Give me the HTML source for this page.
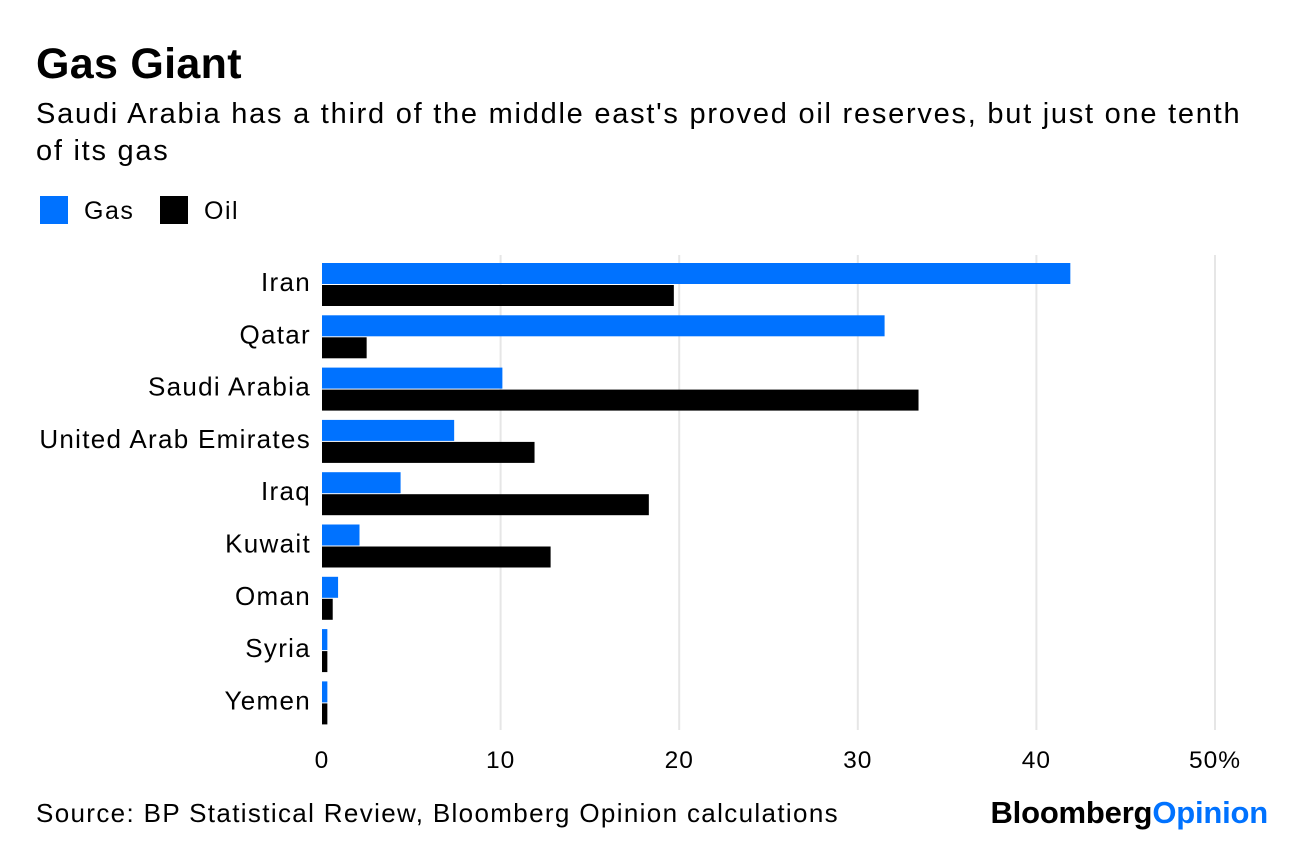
<!DOCTYPE html>
<html><head><meta charset="utf-8">
<style>
body{margin:0;background:#fff;width:1296px;height:846px;overflow:hidden;font-family:"Liberation Sans",sans-serif;color:#000}
.t{position:absolute;white-space:nowrap}
</style></head><body>
<div class="t" style="left:36px;top:40px;font-size:43px;font-weight:bold;letter-spacing:0.3px">Gas Giant</div>
<div class="t" style="left:36px;top:96px;font-size:29px;line-height:37px;letter-spacing:1.75px">Saudi Arabia has a third of the middle east's proved oil reserves, but just one tenth<br>of its gas</div>
<div class="t" style="left:40px;top:196px;font-size:25px;letter-spacing:1.5px"><span style="display:inline-block;width:28px;height:28px;background:#0072ff;vertical-align:-5px;margin-right:16px"></span>Gas</div>
<div class="t" style="left:160px;top:196px;font-size:25px;letter-spacing:1.5px"><span style="display:inline-block;width:28px;height:28px;background:#000;vertical-align:-5px;margin-right:16px"></span>Oil</div>
<svg id="c" width="1296" height="846" style="position:absolute;left:0;top:0"></svg>
<div class="t" style="left:36px;top:798px;font-size:26px;letter-spacing:1.35px">Source: BP Statistical Review, Bloomberg Opinion calculations</div>
<div class="t" style="right:28px;top:795px;font-size:31px;font-weight:bold;letter-spacing:-0.2px">Bloomberg<span style="color:#0072ff">Opinion</span></div>
<script>
const categories=["Iran","Qatar","Saudi Arabia","United Arab Emirates","Iraq","Kuwait","Oman","Syria","Yemen"];
const gasValues=[41.9,31.5,10.1,7.4,4.4,2.1,0.9,0.3,0.3];
const oilValues=[19.7,2.5,33.4,11.9,18.3,12.8,0.6,0.3,0.3];
const ticks=[0,10,20,30,40,50];
const tickLabels=["0","10","20","30","40","50%"];
const NS="http://www.w3.org/2000/svg";
const svg=document.getElementById('c');
const x0=322,pxPer=17.86,top0=263,pitch=52.3,bh=21;
const x=v=>x0+v*pxPer;
function mk(t,a){const e=document.createElementNS(NS,t);for(const k in a)e.setAttribute(k,a[k]);svg.appendChild(e);return e;}
ticks.forEach((t,i)=>{
 if(i>0){const g=mk('line',{x1:x(t),x2:x(t),y1:255,y2:730,stroke:'#e6e6e6','stroke-width':2});
 
 }
 const l=mk('text',{x:x(t),y:768,'font-size':24.5,'text-anchor':'middle','font-family':'Liberation Sans','letter-spacing':1});
 l.textContent=tickLabels[i];
 
 
});
categories.forEach((c,i)=>{
 const y=top0+i*pitch;
 const lb=mk('text',{x:311,y:y+28,'font-size':26,'text-anchor':'end','font-family':'Liberation Sans','letter-spacing':1.3});
 lb.textContent=c;
 
 
 const g=mk('rect',{x:x0,y:y,width:x(gasValues[i])-x0,height:bh,fill:'#0072ff'});
 
 
 const o=mk('rect',{x:x0,y:y+22,width:x(oilValues[i])-x0,height:bh,fill:'#000'});
 
 
});
</script>
</body></html>
